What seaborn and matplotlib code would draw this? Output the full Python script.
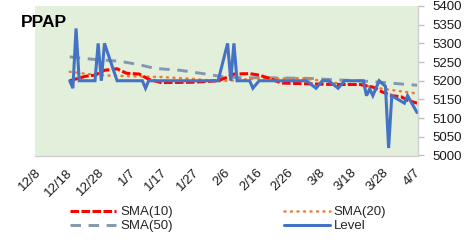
import matplotlib
matplotlib.use("Agg")
import matplotlib.pyplot as plt
import seaborn as sns
import pandas as pd
from matplotlib.lines import Line2D

# ---- data ----
level_dates = ["2016-12-19", "2016-12-20", "2016-12-21", "2016-12-22", "2016-12-27",
               "2016-12-28", "2016-12-29", "2016-12-30", "2017-01-03", "2017-01-11",
               "2017-01-12", "2017-01-13", "2017-02-04", "2017-02-07", "2017-02-08",
               "2017-02-09", "2017-02-10", "2017-02-14", "2017-02-15", "2017-02-17",
               "2017-03-04", "2017-03-07", "2017-03-09", "2017-03-11", "2017-03-14",
               "2017-03-16", "2017-03-22", "2017-03-23", "2017-03-24", "2017-03-25",
               "2017-03-27", "2017-03-29", "2017-03-30", "2017-03-31", "2017-04-02",
               "2017-04-04", "2017-04-05", "2017-04-08"]
level_values = [5200, 5180, 5340, 5200, 5200,
                5300, 5200, 5300, 5200, 5200,
                5180, 5200, 5200, 5300, 5200,
                5300, 5200, 5200, 5180, 5200,
                5200, 5180, 5200, 5200, 5180,
                5200, 5200, 5160, 5178, 5160,
                5200, 5185, 5020, 5160, 5150,
                5140, 5160, 5115]

sma10_dates = ["2016-12-19", "2016-12-24", "2016-12-27", "2016-12-30", "2017-01-03",
               "2017-01-06", "2017-01-10", "2017-01-13", "2017-01-17", "2017-01-27",
               "2017-02-04", "2017-02-07", "2017-02-09", "2017-02-14", "2017-02-17",
               "2017-02-20", "2017-02-24", "2017-03-03", "2017-03-13", "2017-03-21",
               "2017-03-25", "2017-03-28", "2017-03-31", "2017-04-03", "2017-04-05",
               "2017-04-08"]
sma10_values = [5200, 5212, 5215, 5228, 5232,
                5220, 5218, 5204, 5195, 5196,
                5200, 5210, 5218, 5219, 5215,
                5207, 5194, 5192, 5190, 5190,
                5183, 5170, 5160, 5157, 5148,
                5140]

sma20_dates = ["2016-12-19", "2016-12-28", "2017-01-07", "2017-01-17", "2017-01-27",
               "2017-02-04", "2017-02-09", "2017-02-16", "2017-02-24", "2017-03-02",
               "2017-03-08", "2017-03-15", "2017-03-22", "2017-03-27", "2017-04-01",
               "2017-04-08"]
sma20_values = [5224, 5215, 5212, 5210, 5205,
                5199, 5201, 5206, 5206, 5207,
                5201, 5192, 5188, 5180, 5174,
                5166]

sma50_dates = ["2016-12-19", "2016-12-22", "2016-12-27", "2017-01-04", "2017-01-10",
               "2017-01-15", "2017-01-23", "2017-01-31", "2017-02-06", "2017-02-12",
               "2017-02-21", "2017-02-28", "2017-03-06", "2017-03-12", "2017-03-20",
               "2017-03-26", "2017-04-02", "2017-04-08"]
sma50_values = [5264, 5261, 5257, 5252, 5243,
                5233, 5228, 5218, 5210, 5208,
                5208, 5207, 5206, 5203, 5200,
                5197, 5192, 5188]

tick_dates = ["2016-12-08", "2016-12-18", "2016-12-28", "2017-01-07", "2017-01-17",
              "2017-01-27", "2017-02-06", "2017-02-16", "2017-02-26", "2017-03-08",
              "2017-03-18", "2017-03-28", "2017-04-07"]
tick_labels = ["12/8", "12/18", "12/28", "1/7", "1/17", "1/27", "2/6", "2/16",
               "2/26", "3/8", "3/18", "3/28", "4/7"]
y_ticks = [5000, 5050, 5100, 5150, 5200, 5250, 5300, 5350, 5400]

# ---- style ----
sns.set_style("white")
plt.rcParams["font.family"] = ["Liberation Sans", "DejaVu Sans"]

W, H = 477, 244
fig = plt.figure(figsize=(W / 100, H / 100), dpi=100)
left, right, top, bottom = 35, 418.3, 6, 155.5
ax = fig.add_axes([left / W, 1 - bottom / H, (right - left) / W, (bottom - top) / H])
ax.set_facecolor("#E2EFDA")

BLUE, RED, ORANGE, GRAY = "#4472C4", "#FF0000", "#ED7D31", "#8497B0"
red_ls = (0, (2.8, 0.8))
gray_ls = (0, (3.6, 2.6))
orange_ls = (0, (0.4, 2.2))

sns.lineplot(x=pd.to_datetime(sma50_dates), y=sma50_values, ax=ax, color=GRAY,
             lw=2.1, linestyle=gray_ls)
sns.lineplot(x=pd.to_datetime(sma20_dates), y=sma20_values, ax=ax, color=ORANGE,
             lw=1.8, linestyle=orange_ls, dash_capstyle="round")
sns.lineplot(x=pd.to_datetime(sma10_dates), y=sma10_values, ax=ax, color=RED,
             lw=2.2, linestyle=red_ls)
sns.lineplot(x=pd.to_datetime(level_dates), y=level_values, ax=ax, color=BLUE,
             lw=2.2, solid_joinstyle="miter")

tdates = pd.to_datetime(tick_dates)
ax.set_xlim(tdates[0], tdates[0] + pd.Timedelta(days=121.4))
ax.set_xticks(tdates)
ax.set_xticklabels(tick_labels, rotation=45, ha="right", va="top",
                   rotation_mode="anchor", fontsize=9.5, color="#1a1a1a")
ax.set_ylim(5000, 5400)
ax.set_yticks(y_ticks)
ax.yaxis.tick_right()
ax.tick_params(axis="y", labelsize=9.5, labelcolor="#1a1a1a", length=4,
               color="#BFBFBF", width=1, pad=6, right=True, left=False)
ax.tick_params(axis="x", length=5, color="#D0D0D0", width=1, pad=3)
ax.set_xlabel("")
ax.set_ylabel("")
for s in ["top", "left"]:
    ax.spines[s].set_visible(False)
for s in ["right", "bottom"]:
    ax.spines[s].set_color("#D0D0D0")
    ax.spines[s].set_linewidth(1)

fig.text(20.5 / W, 1 - 23 / H, "PPAP", fontsize=12.5, fontweight="bold",
         va="center", ha="left", color="black")

if ax.get_legend():
    ax.get_legend().remove()
handles = [
    Line2D([], [], color=RED, lw=2.2, linestyle=red_ls),
    Line2D([], [], color=GRAY, lw=2.1, linestyle=gray_ls),
    Line2D([], [], color=ORANGE, lw=1.8, linestyle=orange_ls, dash_capstyle="round"),
    Line2D([], [], color=BLUE, lw=2.2),
]
labels = ["SMA(10)", "SMA(50)", "SMA(20)", "Level"]
fig.legend(handles, labels, ncol=2, loc="upper left",
           bbox_to_anchor=(70 / W, 1 - 206 / H), frameon=False,
           fontsize=9.5, borderpad=0, borderaxespad=0, handlelength=3.5,
           handletextpad=0.3, columnspacing=8.4, labelspacing=0.15)

fig.savefig("out.png", dpi=100)
